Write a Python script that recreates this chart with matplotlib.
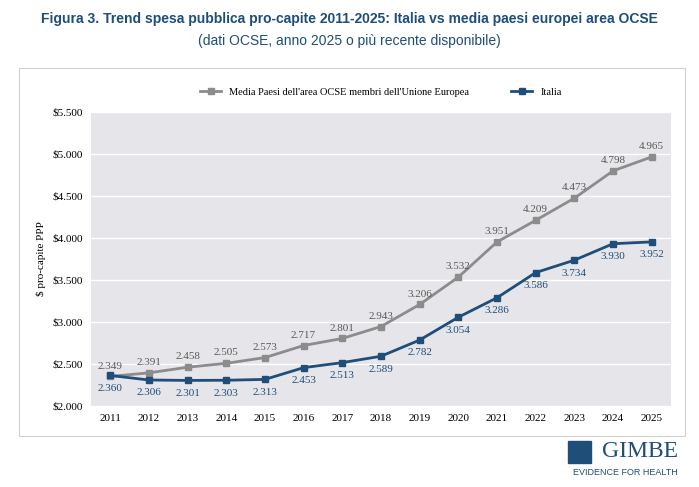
import matplotlib
matplotlib.use("Agg")
import matplotlib.pyplot as plt
from matplotlib.patches import Rectangle

years = list(range(2011, 2026))
ue = [2349, 2391, 2458, 2505, 2573, 2717, 2801, 2943, 3206, 3532, 3951, 4209, 4473, 4798, 4965]
ita = [2360, 2306, 2301, 2303, 2313, 2453, 2513, 2589, 2782, 3054, 3286, 3586, 3734, 3930, 3952]

def fmt(v):
    return f"{v:,}".replace(",", ".")

fig = plt.figure(figsize=(6.99, 4.87), dpi=100)
fig.patch.set_facecolor("white")
fig.text(0.5, 0.962, "Figura 3. Trend spesa pubblica pro-capite 2011-2025: Italia vs media paesi europei area OCSE",
         ha="center", va="center", color="#1f4e79", fontsize=10, fontweight="bold", family="Liberation Sans")
fig.text(0.5, 0.915, "(dati OCSE, anno 2025 o più recente disponibile)", ha="center", va="center",
         color="#1f4e79", fontsize=10, family="Liberation Sans")
fig.patches.append(Rectangle((0.027, 0.105), 0.953, 0.755, transform=fig.transFigure,
                             fill=False, edgecolor="#d0d0d0", lw=0.8))

ax = fig.add_axes([0.13, 0.167, 0.83, 0.603])
ax.set_facecolor("#e6e6ea")
ax.plot(years, ue, color="#8c8c8c", marker="s", ms=4, lw=2, label="Media Paesi dell'area OCSE membri dell'Unione Europea")
ax.plot(years, ita, color="#1f4e79", marker="s", ms=4, lw=2, label="Italia")
for x, a, b in zip(years, ue, ita):
    ax.text(x, a + 70, fmt(a), ha="center", va="bottom", fontsize=8, color="#595959", family="Liberation Serif")
    ax.text(x, b - 100, fmt(b), ha="center", va="top", fontsize=8, color="#1f4e79", family="Liberation Serif")
ax.set_xlim(2010.5, 2025.5)
ax.set_ylim(2000, 5500)
ax.set_yticks(range(2000, 5501, 500))
ax.set_yticklabels(["$" + fmt(v) for v in range(2000, 5501, 500)], family="Liberation Serif", fontsize=8)
ax.set_xticks(years)
ax.set_xticklabels([str(y) for y in years], family="Liberation Serif", fontsize=8)
ax.grid(axis="y", color="white", lw=1)
ax.set_axisbelow(True)
for s in ax.spines.values():
    s.set_visible(False)
ax.tick_params(length=0, pad=6)
ax.set_ylabel("$ pro-capite PPP", family="Liberation Serif", fontsize=8)
ax.legend(loc="lower center", bbox_to_anchor=(0.5, 1.02), ncol=2, frameon=False,
          prop={"family": "Liberation Serif", "size": 7.5}, columnspacing=4)
fig.text(0.97, 0.072, "GIMBE", ha="right", va="center", color="#1f4e79", fontsize=17, family="Liberation Serif")
fig.text(0.97, 0.03, "EVIDENCE FOR HEALTH", ha="right", va="center", color="#1f4e79", fontsize=6.5, family="Liberation Sans")
fig.patches.append(Rectangle((0.812, 0.05), 0.033, 0.045, transform=fig.transFigure, color="#1f4e79"))
fig.savefig("out.png", dpi=100)
